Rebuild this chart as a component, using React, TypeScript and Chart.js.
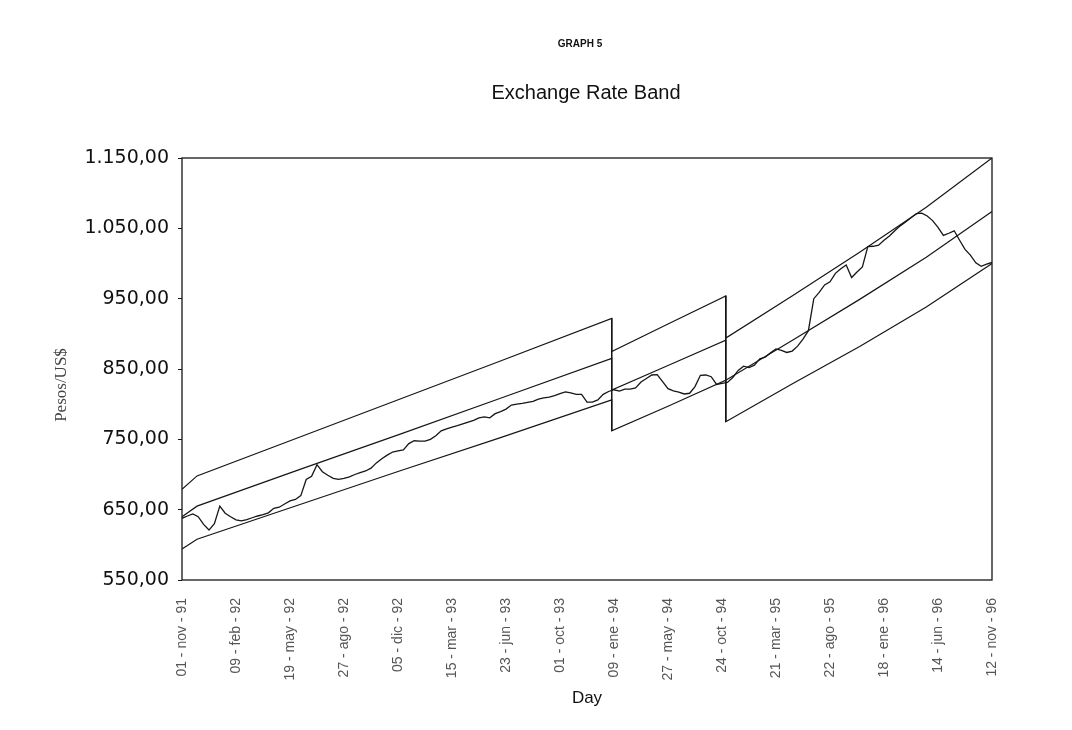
import React, { useEffect, useRef } from "react";
import { Chart, registerables } from "chart.js";

Chart.register(...registerables);

// Tick labels (one every 10 day-steps)
const xTickLabels = [
  "01 - nov - 91", "09 - feb - 92", "19 - may - 92", "27 - ago - 92",
  "05 - dic - 92", "15 - mar - 93", "23 - jun - 93", "01 - oct - 93",
  "09 - ene - 94", "27 - may - 94", "24 - oct - 94", "21 - mar - 95",
  "22 - ago - 95", "18 - ene - 96", "14 - jun - 96", "12 - nov - 96",
];

// Observed exchange rate (pesos per US$), sampled every day-step 0..150
const rateValues = [
  637.7, 641, 644, 640, 629, 621, 630, 655, 645, 640,
  635.5, 634, 636, 638.5, 641, 643, 645.5, 652, 653.5, 658,
  662.5, 664.5, 670, 693, 697.5, 714, 704, 699, 694.5, 693,
  694.5, 696.5, 700, 702.5, 705, 709, 716.5, 722.5, 727.5, 732,
  733.5, 735, 744, 748, 747.5, 747.5, 750, 755, 762, 765,
  767.5, 769.5, 772, 774.5, 777, 780.5, 782, 780.5, 786.5, 789.5,
  793, 798.8, 800, 801, 802.5, 804, 807, 809, 810, 812,
  815, 817.5, 816, 814, 814, 803, 803, 806, 814, 818,
  820.5, 818.5, 821.5, 821.5, 823, 831.5, 836.5, 841.5, 842, 832,
  822, 819, 817, 814.5, 815.5, 825, 841, 841.5, 839, 828,
  829.7, 831, 838, 848, 854, 852, 855.5, 864.5, 867, 873,
  878.5, 876.5, 873.5, 875.5, 882.5, 892.5, 904.5, 950, 959, 969.5,
  974, 986, 992.5, 998, 980, 988, 995, 1024, 1024.5, 1026,
  1033, 1039, 1046.5, 1053.5, 1059, 1065, 1071, 1071.5, 1067.5, 1061,
  1051.5, 1040, 1043, 1046.5, 1033, 1020, 1012, 1001, 996, 999, 1001.5,
];

// Band lines (day-step position, value)
const bandIndex = [0, 2.78, 21.72, 40.28, 58.85, 79.58, 79.58, 90, 100.7, 100.7, 113.05, 125.49, 137.83, 150];
const upperBand = [679, 698, 753, 807, 861, 922, 875, 914, 954, 894, 954, 1016, 1080, 1150];
const centralBand = [640, 655, 707, 757, 808, 865, 820, 855, 891, 834, 891, 949, 1009, 1074];
const lowerBand = [594, 608, 657, 705, 752, 806, 762, 797, 834, 775, 829, 882, 938, 1000];

// Band realignments (vertical connectors)
const rebaseIndex = [79.58, 100.7];
const rebaseTop = [922, 954];
const rebaseBottom = [762, 775];

const yMin = 550;
const yMax = 1150;
const yStep = 100;

function fmtPeso(v: number): string {
  const s = Math.round(v).toString().replace(/\B(?=(\d{3})+(?!\d))/g, ".");
  return s + ",00";
}

const LINE = "#161616";

const decorPlugin = {
  id: "decor",
  afterDraw(chart: any) {
    const { ctx, chartArea: a } = chart;
    ctx.save();
    ctx.strokeStyle = LINE;
    ctx.lineWidth = 1.3;
    ctx.strokeRect(a.left, a.top, a.right - a.left, a.bottom - a.top);

    ctx.fillStyle = "#111";
    ctx.textAlign = "center";
    ctx.textBaseline = "middle";
    ctx.font = 'bold 10px "Liberation Sans", Arial, sans-serif';
    ctx.fillText("GRAPH 5", 580, 44);
    ctx.font = '20px "Liberation Sans", Arial, sans-serif';
    ctx.fillText("Exchange Rate Band", 586, 93);

    ctx.translate(62, 385);
    ctx.rotate(-Math.PI / 2);
    ctx.fillStyle = "#444";
    ctx.font = '17px "Liberation Serif", serif';
    ctx.fillText("Pesos/US$", 0, 0);
    ctx.restore();
  },
};

export default function App() {
  const canvasRef = useRef<HTMLCanvasElement | null>(null);

  useEffect(() => {
    if (!canvasRef.current) return;
    const pts = (xs: number[], ys: number[]) => xs.map((x, i) => ({ x, y: ys[i] }));
    const rebaseData: any[] = [];
    rebaseIndex.forEach((x, i) => {
      rebaseData.push({ x, y: rebaseTop[i] }, { x, y: rebaseBottom[i] }, { x, y: null });
    });
    const common = {
      borderColor: LINE,
      pointRadius: 0,
      tension: 0,
      fill: false,
      spanGaps: false,
    };
    const chart = new Chart(canvasRef.current, {
      type: "line",
      data: {
        datasets: [
          { ...common, label: "Upper", data: pts(bandIndex, upperBand), borderWidth: 1.2 },
          { ...common, label: "Central", data: pts(bandIndex, centralBand), borderWidth: 1.2 },
          { ...common, label: "Lower", data: pts(bandIndex, lowerBand), borderWidth: 1.2 },
          { ...common, label: "Realignment", data: rebaseData, borderWidth: 1 },
          {
            ...common,
            label: "Exchange rate",
            data: rateValues.map((v, i) => ({ x: i, y: v })),
            borderWidth: 1.3,
          },
        ],
      },
      options: {
        animation: false,
        responsive: true,
        maintainAspectRatio: false,
        layout: { padding: { left: 0, right: 80, top: 158, bottom: 0 } },
        plugins: {
          legend: { display: false },
          tooltip: { enabled: false },
          title: { display: false },
        },
        scales: {
          x: {
            type: "linear",
            min: 0,
            max: 150,
            afterFit: (s: any) => {
              s.height = 150;
            },
            ticks: {
              stepSize: 10,
              autoSkip: false,
              minRotation: 90,
              maxRotation: 90,
              padding: 18,
              color: "#555",
              font: { family: '"Liberation Sans Narrow", "Liberation Sans", Arial', size: 14 },
              callback: (v: any) => xTickLabels[Math.round(Number(v) / 10)] ?? "",
            },
            grid: { display: false, drawTicks: false },
            border: { display: false },
            title: {
              display: true,
              text: "Day",
              color: "#111",
              font: { family: '"Liberation Sans", Arial', size: 17 },
              padding: { top: 0, bottom: 21 },
            },
          },
          y: {
            min: yMin,
            max: yMax,
            afterFit: (s: any) => {
              s.width = 182;
            },
            ticks: {
              stepSize: yStep,
              padding: 9,
              color: "#111",
              font: { family: '"DejaVu Sans", sans-serif', size: 19 },
              callback: (v: any) => fmtPeso(Number(v)),
            },
            grid: { drawOnChartArea: false, drawTicks: true, tickLength: 4, color: LINE },
            border: { display: false },
          },
        },
      },
      plugins: [decorPlugin],
    });
    return () => chart.destroy();
  }, []);

  return (
    <div style={{ position: "fixed", left: 0, top: 0, width: 1072, height: 730, background: "#fff" }}>
      <canvas ref={canvasRef} />
    </div>
  );
}
